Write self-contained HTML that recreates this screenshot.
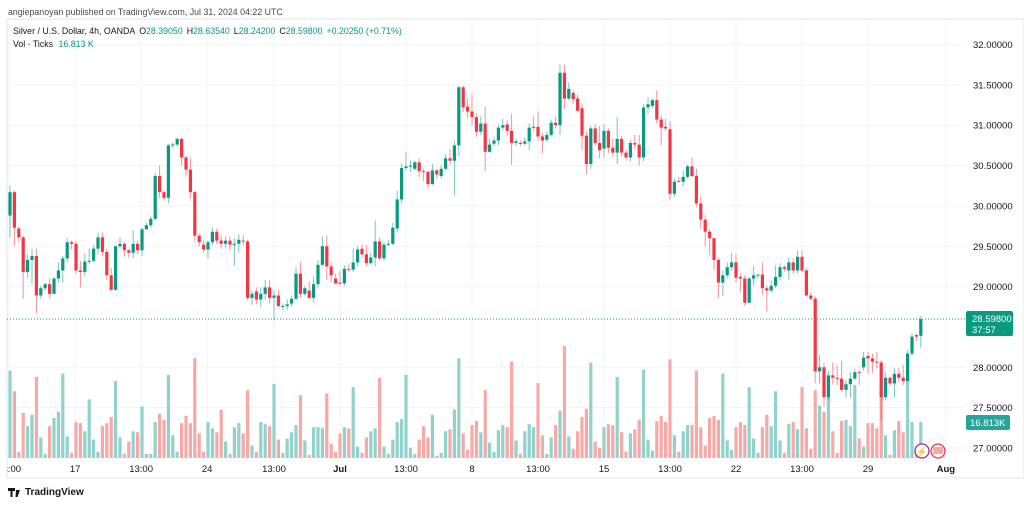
<!DOCTYPE html>
<html><head><meta charset="utf-8"><style>
html,body{margin:0;padding:0;background:#fff;width:1024px;height:505px;overflow:hidden;font-family:"Liberation Sans",sans-serif}
svg{display:block}
text{font-family:"Liberation Sans",sans-serif}
</style></head><body>
<svg id="chart" width="1024" height="505" viewBox="0 0 1024 505">
<text x="8" y="15" font-size="8.8" fill="#4a4a4a">angiepanoyan published on TradingView.com, Jul 31, 2024 04:22 UTC</text>
<rect x="7" y="19" width="1017" height="459" fill="none" stroke="#e0e3eb" stroke-width="1"/>
<g id="grid"></g>
<g id="vols"></g>
<line x1="7" x2="966" y1="319" y2="319" stroke="#089981" stroke-dasharray="1,2" stroke-width="1" id="lastline"/>
<g id="candles"></g>
<g id="yaxis"></g>
<g id="xaxis"></g>
<g>
<text x="13" y="34" font-size="8.8" fill="#131722">Silver / U.S. Dollar, 4h, OANDA <tspan dx="2">O</tspan><tspan fill="#089981">28.39050</tspan><tspan dx="4">H</tspan><tspan fill="#089981">28.63540</tspan><tspan dx="4">L</tspan><tspan fill="#089981">28.24200</tspan><tspan dx="4">C</tspan><tspan fill="#089981">28.59800</tspan><tspan dx="4" fill="#089981">+0.20250 (+0.71%)</tspan></text>
<text x="13" y="47" font-size="8.8" fill="#131722">Vol · Ticks <tspan dx="3" fill="#089981">16.813 K</tspan></text>
</g>
<g>
<circle cx="922" cy="451" r="7" fill="#fff" stroke="#9c27b0" stroke-width="1.3"/>
<text x="922" y="455" font-size="9" fill="#9c27b0" text-anchor="middle">⚡</text>
<circle cx="938" cy="451" r="7" fill="#fff" stroke="#f23645" stroke-width="1.3"/>
<rect x="933" y="447" width="10" height="7" fill="#f7a9a7"/>
</g>
<g>
<path d="M8 488h7v3h-2.5v6h-2v-6H8z M16 490h4l-2.5 7h-2z" fill="#131722"/>
<text x="25" y="495" font-size="10" font-weight="bold" fill="#131722">TradingView</text>
</g>
</svg>
<script>
const opens=[29.88,30.17,29.72,29.61,29.18,29.33,29.38,28.89,28.98,29.03,28.91,29.10,29.20,29.35,29.55,29.53,29.20,29.18,29.31,29.32,29.47,29.61,29.43,29.14,28.96,29.50,29.53,29.45,29.42,29.53,29.45,29.71,29.76,29.84,30.37,30.17,30.10,30.75,30.76,30.83,30.60,30.45,30.17,29.63,29.52,29.46,29.55,29.68,29.57,29.53,29.57,29.52,29.53,29.57,29.56,28.86,28.94,28.84,28.91,28.99,28.86,28.89,28.75,28.76,28.79,28.85,29.16,28.91,28.95,28.86,29.03,29.27,29.50,29.25,29.10,29.05,29.04,29.22,29.21,29.30,29.47,29.40,29.29,29.36,29.56,29.35,29.52,29.53,29.72,30.08,30.47,30.49,30.46,30.54,30.43,30.42,30.27,30.44,30.37,30.46,30.59,30.56,30.75,31.47,31.23,31.17,31.10,30.92,31.02,30.67,30.77,30.81,30.97,31.01,30.93,30.78,30.78,30.77,30.80,30.97,30.98,30.86,30.82,30.88,31.03,31.00,31.65,31.33,31.40,31.33,31.21,30.87,30.52,30.96,30.78,30.71,30.93,30.72,30.66,30.83,30.66,30.60,30.78,30.76,30.60,31.22,31.24,31.31,31.07,30.98,30.95,30.15,30.31,30.30,30.36,30.49,30.37,30.03,29.83,29.68,29.60,29.33,29.05,29.14,29.24,29.30,29.12,29.10,28.80,29.10,29.14,29.15,28.98,28.95,29.01,29.12,29.24,29.20,29.30,29.20,29.37,29.20,28.89,28.85,27.95,28.00,27.63,27.90,27.87,27.86,27.72,27.79,27.86,27.94,28.00,28.14,28.11,28.07,28.06,27.63,27.87,27.80,27.92,27.87,27.83,28.17,28.40,28.3905];
const highs=[30.25,30.19,29.75,29.63,29.40,29.47,29.47,29.01,29.05,29.10,29.12,29.30,29.38,29.60,29.57,29.56,29.32,29.41,29.47,29.51,29.67,29.67,29.47,29.23,29.51,29.61,29.55,29.47,29.70,29.57,29.73,29.79,29.87,30.40,30.50,30.19,30.77,30.79,30.85,30.85,30.62,30.59,30.19,29.66,29.57,29.57,29.73,29.72,29.63,29.62,29.62,29.60,29.65,29.64,29.58,28.95,28.99,28.99,29.08,29.08,28.95,28.96,28.79,28.84,28.89,29.24,29.30,29.01,29.06,29.13,29.33,29.62,29.63,29.30,29.16,29.19,29.26,29.27,29.47,29.50,29.52,29.51,29.42,29.82,29.61,29.55,29.58,29.79,30.19,30.52,30.67,30.56,30.56,30.59,30.46,30.44,30.52,30.46,30.50,30.64,30.70,30.81,31.49,31.49,31.33,31.38,31.15,31.11,31.23,30.83,30.85,31.01,31.08,31.06,31.14,30.83,30.81,30.85,31.02,31.11,31.17,30.91,30.92,31.07,31.11,31.75,31.75,31.53,31.43,31.38,31.27,30.92,30.99,31.01,30.99,31.01,30.96,30.83,31.10,30.87,30.70,30.82,30.88,30.88,31.26,31.34,31.33,31.43,31.12,31.08,31.05,30.34,30.36,30.44,30.51,30.60,30.46,30.12,29.89,29.71,29.60,29.36,29.20,29.30,29.42,29.40,29.16,29.14,29.12,29.26,29.15,29.30,29.01,29.08,29.26,29.29,29.26,29.36,29.35,29.45,29.45,29.23,28.93,28.88,28.15,28.06,27.95,28.06,28.03,28.08,27.84,27.94,27.98,27.96,28.19,28.19,28.17,28.19,28.09,27.94,27.89,27.99,27.99,28.03,28.22,28.42,28.42,28.6354];
const lows=[29.61,29.50,29.55,28.85,29.11,29.03,28.67,28.85,28.95,28.85,28.91,29.05,29.05,29.30,29.46,29.16,28.99,29.13,29.28,29.30,29.40,29.37,29.08,28.94,28.95,29.48,29.37,29.36,29.35,29.40,29.38,29.71,29.73,29.82,30.10,30.07,30.03,30.72,30.74,30.50,30.36,30.09,29.56,29.50,29.42,29.35,29.51,29.53,29.47,29.47,29.45,29.26,29.42,29.51,28.83,28.77,28.78,28.75,28.84,28.79,28.58,28.75,28.71,28.71,28.75,28.83,28.86,28.88,28.85,28.80,28.99,29.25,29.08,29.05,29.03,29.01,29.01,29.18,29.18,29.25,29.36,29.25,29.27,29.25,29.33,29.32,29.50,29.51,29.67,30.03,30.44,30.42,30.44,30.36,30.31,30.22,30.26,30.34,30.34,30.44,30.51,30.13,30.62,31.16,31.09,31.00,30.86,30.88,30.44,30.66,30.74,30.75,30.93,30.87,30.51,30.74,30.74,30.75,30.69,30.93,30.81,30.65,30.79,30.86,30.96,30.88,31.20,31.31,31.27,31.16,30.69,30.39,30.46,30.75,30.59,30.60,30.66,30.61,30.52,30.61,30.56,30.55,30.71,30.50,30.55,31.14,31.21,31.02,30.75,30.93,30.07,30.11,30.29,30.24,30.34,30.36,29.99,29.71,29.50,29.39,29.20,28.86,28.88,29.10,29.20,29.05,28.93,28.76,28.79,29.01,29.10,28.90,28.69,28.93,28.98,29.08,29.19,29.08,29.16,29.16,29.18,28.88,28.83,27.80,27.80,27.51,27.59,27.79,27.78,27.69,27.62,27.62,27.84,27.78,27.96,27.92,27.93,27.99,27.34,27.59,27.77,27.63,27.82,27.78,27.82,28.14,28.33,28.242];
const closes=[30.17,29.73,29.61,29.18,29.33,29.38,28.89,28.98,29.03,28.91,29.10,29.20,29.35,29.55,29.53,29.20,29.18,29.31,29.32,29.47,29.61,29.43,29.14,28.96,29.50,29.53,29.45,29.42,29.53,29.45,29.71,29.76,29.84,30.37,30.17,30.10,30.75,30.76,30.83,30.60,30.45,30.17,29.63,29.55,29.46,29.55,29.68,29.57,29.53,29.57,29.52,29.53,29.58,29.56,28.86,28.91,28.84,28.91,28.99,28.86,28.89,28.76,28.76,28.78,28.85,29.16,28.91,28.98,28.86,29.03,29.27,29.50,29.25,29.14,29.04,29.04,29.22,29.21,29.30,29.46,29.40,29.29,29.36,29.56,29.35,29.52,29.53,29.73,30.08,30.47,30.49,30.50,30.54,30.43,30.42,30.27,30.44,30.39,30.46,30.59,30.56,30.75,31.47,31.22,31.17,31.10,30.92,31.02,30.67,30.76,30.81,30.97,31.00,30.93,30.78,30.80,30.77,30.80,30.97,30.98,30.86,30.81,30.88,31.03,31.00,31.65,31.33,31.45,31.32,31.18,30.87,30.52,30.96,30.78,30.69,30.93,30.72,30.66,30.83,30.66,30.60,30.78,30.76,30.60,31.22,31.26,31.31,31.07,30.97,30.96,30.15,30.30,30.30,30.36,30.49,30.37,30.03,29.83,29.68,29.60,29.33,29.05,29.14,29.24,29.30,29.11,29.10,28.80,29.10,29.14,29.15,28.98,28.95,29.01,29.12,29.24,29.22,29.30,29.20,29.37,29.20,28.89,28.85,27.95,28.00,27.63,27.90,27.87,27.86,27.72,27.79,27.86,27.94,27.93,28.12,28.11,28.07,28.06,27.63,27.87,27.80,27.92,27.87,27.83,28.17,28.38,28.38,28.598];
const volumes=[40.8,31.2,2.9,21.1,14.9,20.2,37.9,9.6,1.9,14.9,18.7,21.6,39.4,10.1,2.4,16.8,16.3,12.5,27.4,8.6,2.9,14.9,16.3,19.2,36.0,9.6,1.9,7.7,12.5,12.0,24.0,1.9,1.9,16.8,20.6,17.8,38.9,10.6,2.9,16.3,19.7,16.3,46.6,11.5,
2.9,16.8,13.9,12.0,22.6,7.7,1.9,14.4,16.3,11.5,31.7,5.8,2.9,16.8,15.8,14.9,34.6,8.6,2.4,9.1,12.0,15.4,29.3,8.2,1.4,14.4,14.4,13.9,30.2,6.7,2.9,11.5,14.4,13.9,33.1,5.3,2.4,9.6,12.5,13.9,37.4,5.3,1.9,8.6,
16.8,18.2,38.9,4.8,1.9,8.6,14.9,9.6,20.2,1.0,2.4,12.5,13.4,22.6,46.6,11.5,3.8,15.4,17.3,12.0,31.7,7.2,2.9,13.0,15.4,14.4,45.1,8.2,1.9,12.5,15.8,14.4,35.0,10.6,1.9,9.6,15.4,22.1,52.3,10.1,4.3,12.5,19.2,23.0,44.6,
7.7,4.8,14.4,15.8,15.4,37.9,12.0,2.9,11.5,13.4,17.8,41.3,8.6,3.4,17.3,19.7,16.8,46.1,10.6,2.9,12.5,15.4,15.4,40.8,14.4,5.8,18.7,19.7,17.8,39.4,8.2,3.8,14.4,16.8,15.4,33.1,9.1,2.4,14.4,20.2,14.9,31.2,8.2,2.4,
15.8,16.8,13.4,33.1,13.9,4.3,31.7,24.5,21.6,31.7,12.5,2.4,17.3,17.8,14.9,34.1,9.1,5.3,16.3,16.3,13.9,31.2,10.6,1.4,13.0,17.3,12.0,37.9,16.8,3.8,16.813];
const priceTicks=[32,31.5,31,30.5,30,29.5,29,28,27.5,27];
const timeTickIdx=[-0.2,14.8,29.8,44.8,60,75,90,105,120,135,150,165,180,195,212.7];
const timeTickLabels=["13:00","17","13:00","24","13:00","Jul","13:00","8","13:00","15","13:00","22","13:00","29","Aug"];
const boldTicks=["Jul","Aug"];
const lastPrice=28.598, lastVol=16.813, countdown="37:57";

const NS="http://www.w3.org/2000/svg";
const PL=7, PR=966, FS=9.5;
function yP(v){return 448-(v-27)*80.7;}
function xI(i){return 10+i*4.4;}
function yV(v){return 458-v*2.14;}
function mk(tag,attrs,parent){const e=document.createElementNS(NS,tag);for(const k in attrs)e.setAttribute(k,attrs[k]);parent.appendChild(e);return e;}
const grid=document.getElementById('grid'),vols=document.getElementById('vols'),cg=document.getElementById('candles'),ya=document.getElementById('yaxis'),xa=document.getElementById('xaxis');
const clip=mk('clipPath',{id:'pane'},document.getElementById('chart'));
mk('rect',{x:PL,y:19,width:PR-PL,height:440},clip);
vols.setAttribute('clip-path','url(#pane)');cg.setAttribute('clip-path','url(#pane)');grid.setAttribute('clip-path','url(#pane)');
priceTicks.forEach(v=>{
  const l=mk('line',{x1:PL,x2:PR,y1:yP(v),y2:yP(v),stroke:'#f0f3fa','stroke-width':1},grid);
  
  
  const t=mk('text',{x:973,y:yP(v)+3.5,'font-size':FS,fill:'#131722'},ya);
  t.textContent=v.toFixed(5);
  
  
});
timeTickIdx.forEach((ix,k)=>{
  const x=xI(ix);
  const l=mk('line',{x1:x,x2:x,y1:19,y2:459,stroke:'#f0f3fa','stroke-width':1},grid);
  
  
  const lab=timeTickLabels[k];
  const t=mk('text',{x:x,y:472,'font-size':FS,fill:'#131722','text-anchor':'middle','font-weight':boldTicks.includes(lab)?'bold':'normal'},xa);
  t.textContent=lab;
  
  
});
const xclip=mk('clipPath',{id:'xclip'},document.getElementById('chart'));
mk('rect',{x:PL,y:459,width:PR-PL,height:19},xclip);
xa.setAttribute('clip-path','url(#xclip)');
volumes.forEach((v,i)=>{
  const up=closes[i]>=opens[i];
  const r=mk('rect',{x:xI(i)-1.6,y:yV(v),width:3.2,height:458-yV(v),fill:up?'#92d2cc':'#f7a9a7'},vols);
  
  
});
closes.forEach((c,i)=>{
  const o=opens[i],up=c>=o,col=up?'#089981':'#f23645',x=xI(i);
  const w=mk('line',{x1:x,x2:x,y1:yP(highs[i]),y2:yP(lows[i]),stroke:col,'stroke-width':1,'stroke-opacity':0.55},cg);
  
  
  const top=Math.min(yP(o),yP(c)),h=Math.max(1,Math.abs(yP(o)-yP(c)));
  const b=mk('rect',{x:x-1.6,y:top,width:3.2,height:h,fill:col},cg);
  
  
});
document.getElementById('lastline').setAttribute('y1',yP(lastPrice));
document.getElementById('lastline').setAttribute('y2',yP(lastPrice));
const lb=mk('rect',{x:966,y:yP(lastPrice)-8,width:47,height:25,rx:2,fill:'#089981'},ya);


const lt=mk('text',{x:972,y:yP(lastPrice)+3,'font-size':FS,fill:'#fff'},ya);
lt.textContent=lastPrice.toFixed(5);


const ct=mk('text',{x:972,y:yP(lastPrice)+14,'font-size':FS,fill:'#fff'},ya);
ct.textContent=countdown;


const vb=mk('rect',{x:966,y:yV(lastVol)-7,width:44,height:15,rx:2,fill:'#26a69a'},ya);


const vt=mk('text',{x:970,y:yV(lastVol)+4,'font-size':FS,fill:'#fff'},ya);
vt.textContent=lastVol.toFixed(3)+'K';


</script>
</body></html>
